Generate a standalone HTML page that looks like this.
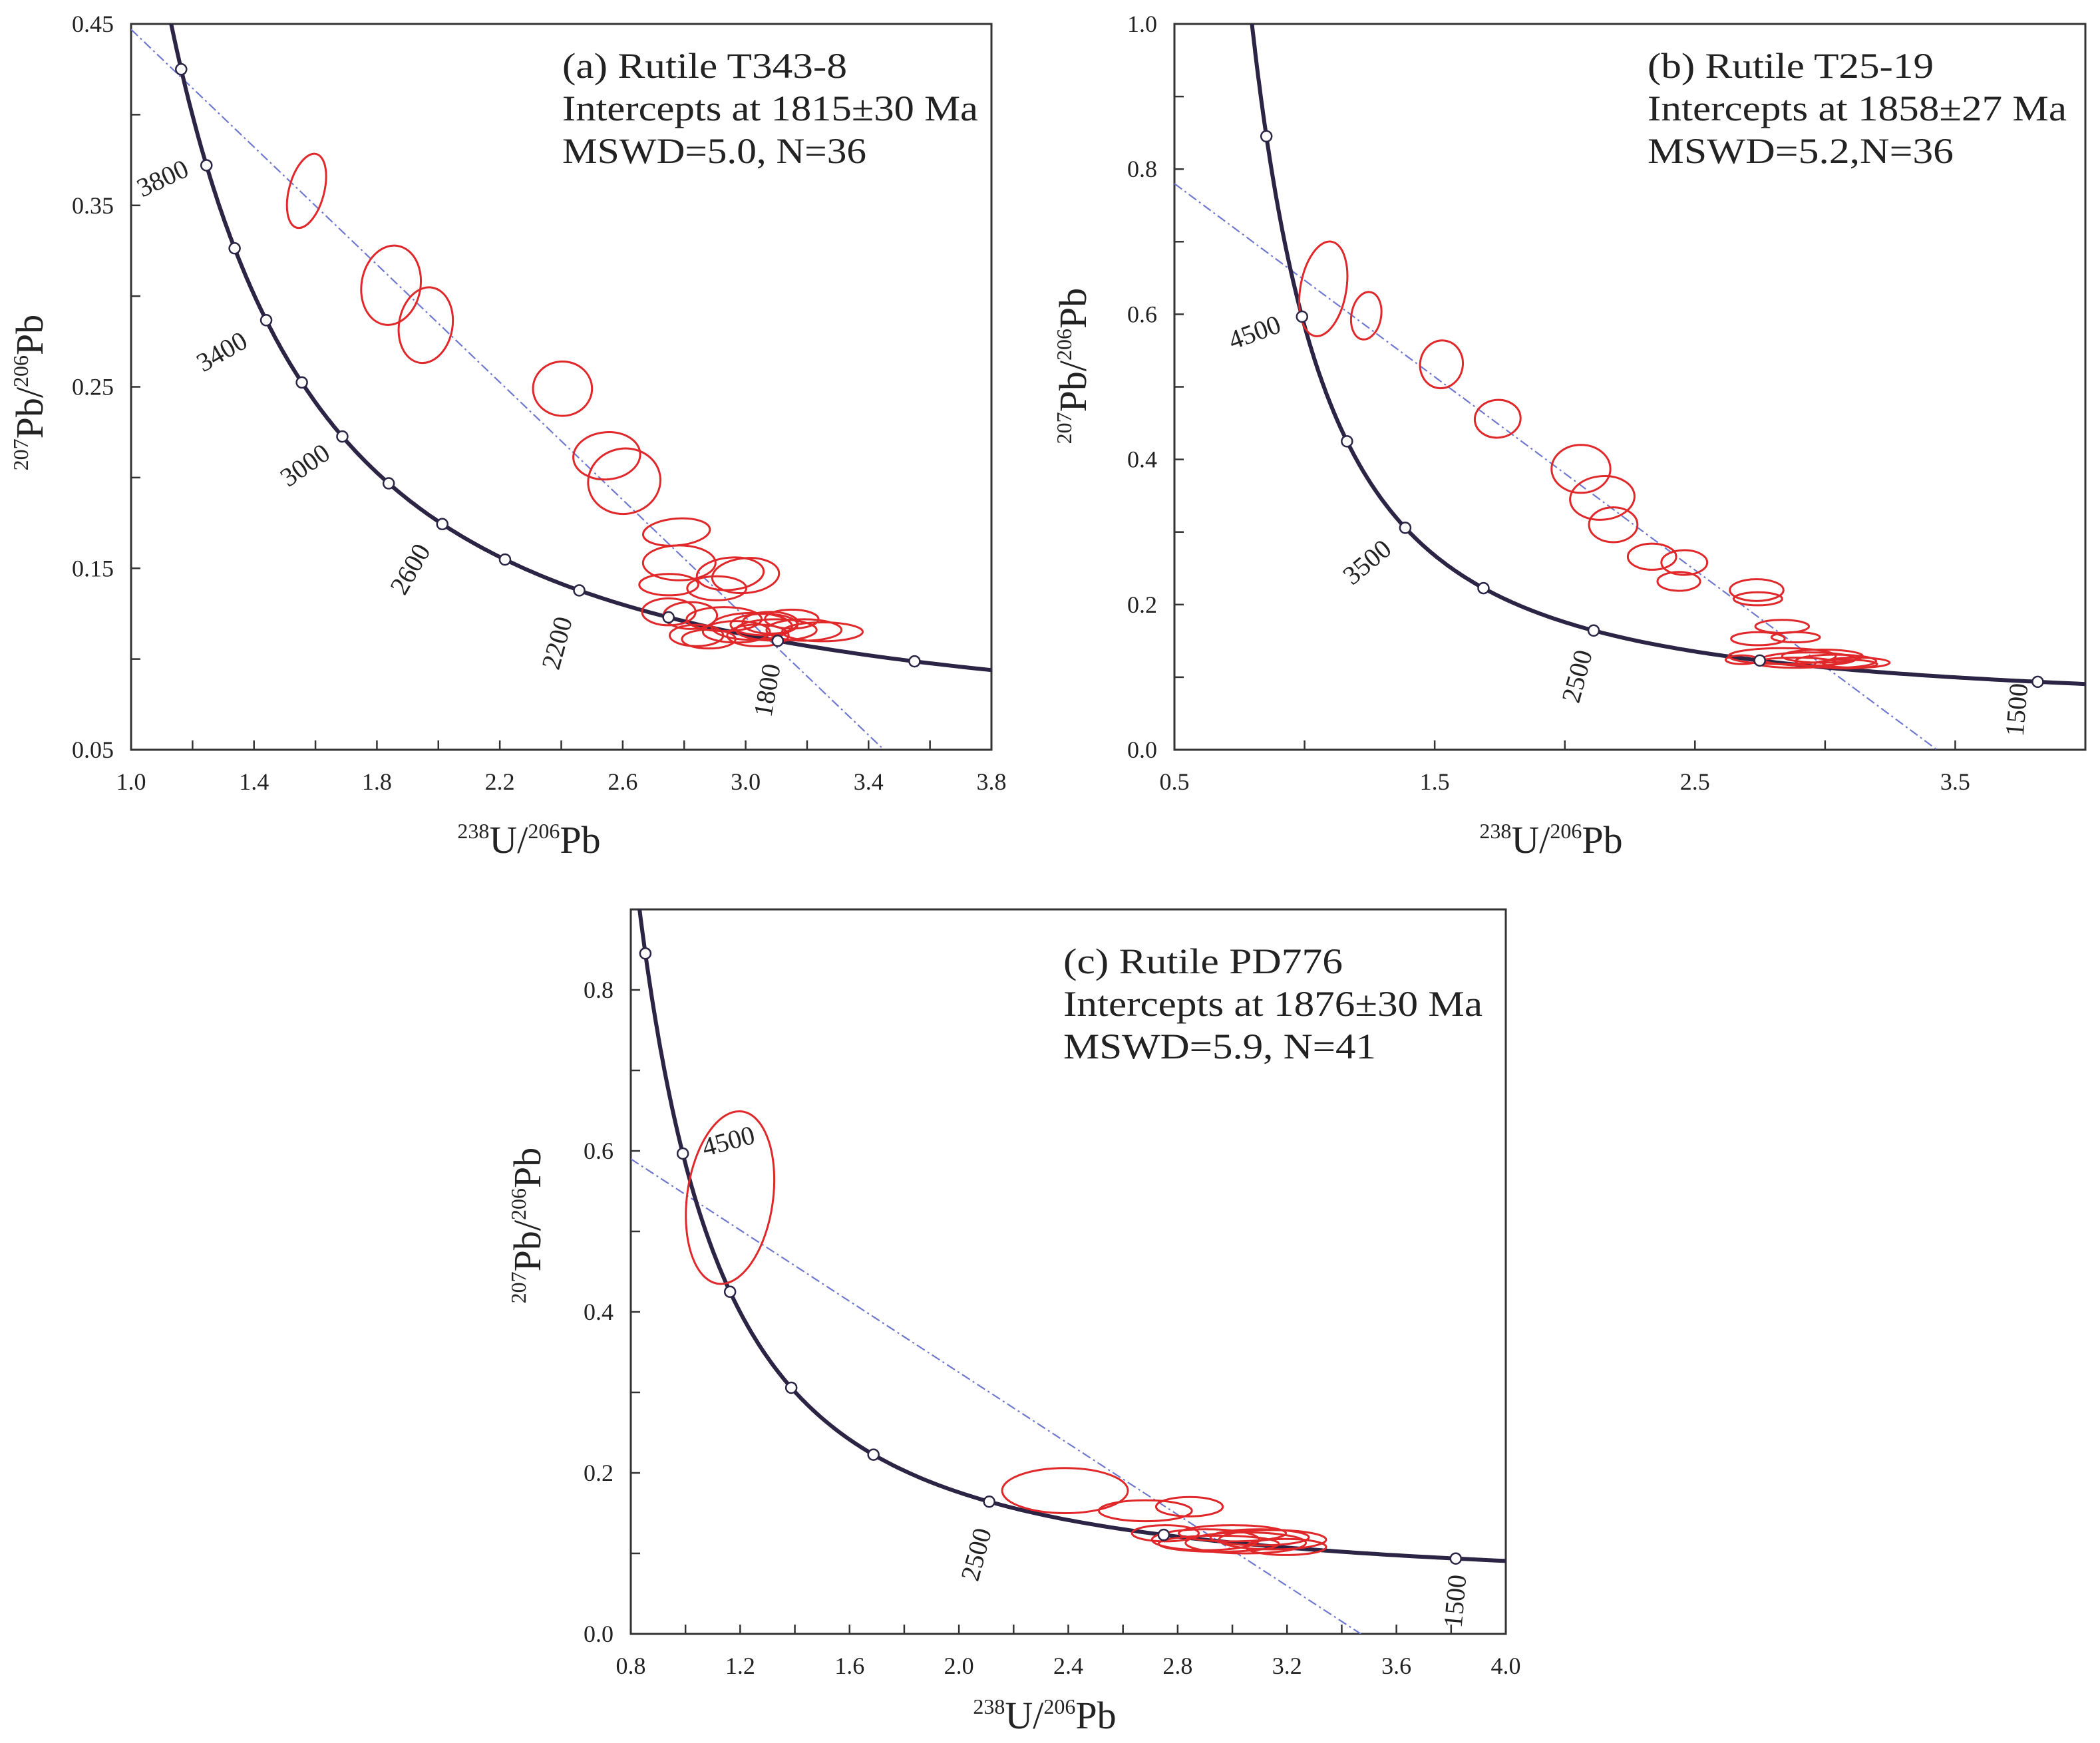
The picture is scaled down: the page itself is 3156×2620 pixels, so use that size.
<!DOCTYPE html>
<html><head><meta charset="utf-8"><style>
html,body{margin:0;padding:0;background:#fff;}
svg{display:block;font-family:"Liberation Serif",serif;}
</style></head><body>
<svg id="fig" xmlns="http://www.w3.org/2000/svg" width="3156" height="2620" viewBox="0 0 3156 2620">
<rect width="3156" height="2620" fill="#fff"/>
</svg>
<script>
// ---------- data ----------
const ellA_x  = [1.571,1.846,1.959,2.404,2.548,2.605,2.775,2.784,2.750,2.950,3.000,2.906,2.750,2.820,2.930,2.840,3.020,3.100,3.190,3.250,2.970,3.060,3.150,2.880,3.040,3.080];
const ellA_y  = [0.358,0.306,0.284,0.249,0.212,0.198,0.170,0.153,0.141,0.147,0.146,0.139,0.126,0.124,0.122,0.113,0.118,0.116,0.116,0.115,0.115,0.119,0.122,0.111,0.113,0.120];
const ellA_rx = [0.057,0.096,0.087,0.096,0.109,0.118,0.109,0.118,0.096,0.109,0.109,0.096,0.087,0.087,0.122,0.087,0.131,0.131,0.122,0.131,0.109,0.109,0.087,0.087,0.100,0.090];
const ellA_ry = [0.021,0.022,0.021,0.015,0.013,0.018,0.0074,0.0096,0.0059,0.0089,0.0096,0.0066,0.0074,0.0074,0.0066,0.0059,0.0074,0.0059,0.0059,0.0052,0.0059,0.0059,0.0052,0.0052,0.006,0.006];
const ellA_t  = [15,10,10,0,-5,-10,-5,0,0,-5,-5,0,0,0,0,0,0,0,0,0,0,0,0,0,0,0];

const ellB_x  = [1.072,1.237,1.526,1.742,2.062,2.144,2.186,2.335,2.459,2.438,2.737,2.742,2.835,2.742,2.887,2.835,2.938,3.041,2.990,3.119,2.680,2.887,3.080];
const ellB_y  = [0.635,0.598,0.531,0.456,0.387,0.347,0.310,0.266,0.258,0.232,0.220,0.208,0.170,0.153,0.155,0.129,0.125,0.122,0.129,0.120,0.124,0.120,0.118];
const ellB_rx = [0.088,0.057,0.082,0.088,0.113,0.124,0.093,0.093,0.088,0.082,0.103,0.093,0.103,0.103,0.093,0.206,0.180,0.155,0.155,0.129,0.062,0.155,0.12];
const ellB_ry = [0.066,0.033,0.033,0.026,0.033,0.030,0.024,0.018,0.017,0.013,0.015,0.009,0.009,0.009,0.007,0.011,0.009,0.009,0.009,0.007,0.006,0.007,0.006];
const ellB_t  = [10,10,10,-5,0,-5,0,0,0,0,0,0,0,0,0,0,0,0,0,0,0,0,0];

const ellC_x  = [1.163,2.388,2.682,2.843,2.902,3.049,3.147,3.196,3.000,2.755,2.95,3.10];
const ellC_y  = [0.542,0.178,0.153,0.158,0.117,0.113,0.117,0.108,0.125,0.125,0.112,0.120];
const ellC_rx = [0.157,0.230,0.170,0.122,0.196,0.220,0.196,0.147,0.196,0.122,0.22,0.18];
const ellC_ry = [0.108,0.028,0.013,0.012,0.013,0.013,0.012,0.010,0.010,0.010,0.010,0.010];
const ellC_t  = [8,0,0,0,0,0,0,0,0,0,0,0];

const discA = [1.0,0.447,3.45,0.05];
const discB = [0.5,0.78,3.43,0.0];
const discC = [0.8,0.59,3.47,0.0];

const markA = [4000,3800,3600,3400,3200,3000,2800,2600,2400,2200,2000,1800,1600];
const markB = [5000,4500,4000,3500,3000,2500,2000,1500];
const markC = [5000,4500,4000,3500,3000,2500,2000,1500];
const ageLabA = ["3800","3400","3000","2600","2200","1800"];
const ageLabB = ["4500","3500","2500","1500"];
const ageLabC = ["4500","2500","1500"];

// ---------- helpers ----------
const NS="http://www.w3.org/2000/svg";
const svg=document.getElementById('fig');
function mk(tag,attrs,parent){const e=document.createElementNS(NS,tag);for(const k in attrs)e.setAttribute(k,attrs[k]);(parent||svg).appendChild(e);return e;}
const L238=1.55125e-10,L235=9.8485e-10;
function conc(tMa){const t=tMa*1e6;const a=Math.exp(L238*t)-1,b=Math.exp(L235*t)-1;return [1/a,b/a/137.88];}

function panel(cfg){
  const g=mk('g',{});
  
  
  const X=v=>cfg.L+(v-cfg.x0)/(cfg.x1-cfg.x0)*(cfg.R-cfg.L);
  const Y=v=>cfg.B-(v-cfg.y0)/(cfg.y1-cfg.y0)*(cfg.B-cfg.T);
  const clipId=cfg.name+'-clip';
  const cp=mk('clipPath',{id:clipId},g);mk('rect',{x:cfg.L,y:cfg.T,width:cfg.R-cfg.L,height:cfg.B-cfg.T},cp);
  const frame=mk('rect',{x:cfg.L,y:cfg.T,width:cfg.R-cfg.L,height:cfg.B-cfg.T,fill:'none',stroke:'#333',"stroke-width":3},g);
  
  
  const nx=Math.round((cfg.x1-cfg.x0)/cfg.xt);
  for(let i=0;i<=nx;i++){const v=cfg.x0+i*cfg.xt;const px=X(v);
    mk('line',{x1:px,y1:cfg.B,x2:px,y2:cfg.B-14,stroke:'#333',"stroke-width":2.5},g);
    if(i%cfg.xle===0){const t=mk('text',{x:px,y:cfg.B+60,"text-anchor":"middle","font-size":36,fill:'#222'},g);t.textContent=v.toFixed(1);
      
      }
  }
  const ny=Math.round((cfg.y1-cfg.y0)/cfg.yt);
  for(let i=0;i<=ny;i++){const v=cfg.y0+i*cfg.yt;const py=Y(v);
    mk('line',{x1:cfg.L,y1:py,x2:cfg.L+14,y2:py,stroke:'#333',"stroke-width":2.5},g);
    if(i%cfg.yle===0){const t=mk('text',{x:cfg.L-26,y:py+12,"text-anchor":"end","font-size":36,fill:'#222'},g);t.textContent=v.toFixed(cfg.yd);
      
      }
  }
  const inner=mk('g',{"clip-path":`url(#${clipId})`},g);
  const d=cfg.disc;
  const dl=mk('line',{x1:X(d[0]),y1:Y(d[1]),x2:X(d[2]),y2:Y(d[3]),stroke:'#6f78d0',"stroke-width":2.2,"stroke-dasharray":"14 5 3 5"},inner);
  
  
  let pts=[];for(let t=1000;t<=5600;t+=10){const c=conc(t);pts.push(X(c[0]).toFixed(1)+','+Y(c[1]).toFixed(1));}
  const cl=mk('polyline',{points:pts.join(' '),fill:'none',stroke:'#2b2445',"stroke-width":6},inner);
  
  
  for(let i=0;i<cfg.ex.length;i++){
    const cx=X(cfg.ex[i]),cy=Y(cfg.ey[i]);
    const rx=X(cfg.ex[i]+cfg.erx[i])-cx, ry=cy-Y(cfg.ey[i]+cfg.ery[i]);
    const e=mk('ellipse',{cx:cx,cy:cy,rx:rx,ry:ry,fill:'none',stroke:'#e0282a',"stroke-width":3,transform:`rotate(${cfg.et[i]} ${cx} ${cy})`},inner);
    
    
  }
  cfg.marks.forEach(t=>{const c=conc(t);const m=mk('circle',{cx:X(c[0]),cy:Y(c[1]),r:8,fill:'#fff',stroke:'#2b2445',"stroke-width":2.5},inner);
    
    });
  cfg.ageLab.forEach((s,i)=>{const p=cfg.agePos[i];const t=mk('text',{x:p[0],y:p[1],"text-anchor":"middle","font-size":40,fill:'#222',transform:`rotate(${p[2]} ${p[0]} ${p[1]})`},g);t.textContent=s;
    
    });
  cfg.notes.forEach((s,i)=>{const t=mk('text',{x:cfg.noteX,y:cfg.noteY+i*64,"font-size":54,fill:'#222',textLength:cfg.noteW[i],lengthAdjust:'spacingAndGlyphs'},g);t.textContent=s;
    
    });
  const xt=mk('text',{x:cfg.xTitle[0],y:cfg.xTitle[1],"text-anchor":"middle","font-size":58,fill:'#222'},g);
  xt.innerHTML='<tspan font-size="32" dy="-22">238</tspan><tspan dy="22">U/</tspan><tspan font-size="32" dy="-22">206</tspan><tspan dy="22">Pb</tspan>';
  
  
  const yt=mk('text',{x:cfg.yTitle[0],y:cfg.yTitle[1],"text-anchor":"middle","font-size":58,fill:'#222',transform:`rotate(-90 ${cfg.yTitle[0]} ${cfg.yTitle[1]})`},g);
  yt.innerHTML='<tspan font-size="32" dy="-22">207</tspan><tspan dy="22">Pb/</tspan><tspan font-size="32" dy="-22">206</tspan><tspan dy="22">Pb</tspan>';
  
  
}

panel({name:'panel-a',L:197,R:1490,T:36,B:1127,x0:1.0,x1:3.8,y0:0.05,y1:0.45,xt:0.2,xle:2,yt:0.05,yle:2,yd:2,
  disc:discA,ex:ellA_x,ey:ellA_y,erx:ellA_rx,ery:ellA_ry,et:ellA_t,marks:markA,ageLab:ageLabA,
  agePos:[[250,280,-25],[340,540,-30],[466,710,-35],[628,862,-60],[850,970,-75],[1166,1040,-80]],
  notes:['(a) Rutile T343-8','Intercepts at 1815±30 Ma','MSWD=5.0, N=36'],noteW:[428,625,457],noteX:845,noteY:117,
  xTitle:[795,1282],yTitle:[64,590]});
panel({name:'panel-b',L:1765,R:3134,T:36,B:1127,x0:0.5,x1:4.0,y0:0,y1:1.0,xt:0.5,xle:2,yt:0.1,yle:2,yd:1,
  disc:discB,ex:ellB_x,ey:ellB_y,erx:ellB_rx,ery:ellB_ry,et:ellB_t,marks:markB,ageLab:ageLabB,
  agePos:[[1890,512,-20],[2063,855,-40],[2383,1020,-75],[3044,1068,-85]],
  notes:['(b) Rutile T25-19','Intercepts at 1858±27 Ma','MSWD=5.2,N=36'],noteW:[430,630,460],noteX:2476,noteY:117,
  xTitle:[2331,1282],yTitle:[1632,550]});
panel({name:'panel-c',L:948,R:2263,T:1367,B:2456,x0:0.8,x1:4.0,y0:0,y1:0.9,xt:0.2,xle:2,yt:0.1,yle:2,yd:1,
  disc:discC,ex:ellC_x,ey:ellC_y,erx:ellC_rx,ery:ellC_ry,et:ellC_t,marks:markC,ageLab:ageLabC,
  agePos:[[1098,1728,-15],[1480,2340,-75],[2200,2408,-85]],
  notes:['(c) Rutile PD776','Intercepts at 1876±30 Ma','MSWD=5.9, N=41'],noteW:[420,630,470],noteX:1598,noteY:1463,
  xTitle:[1570,2598],yTitle:[812,1842]});
</script>
</body></html>
